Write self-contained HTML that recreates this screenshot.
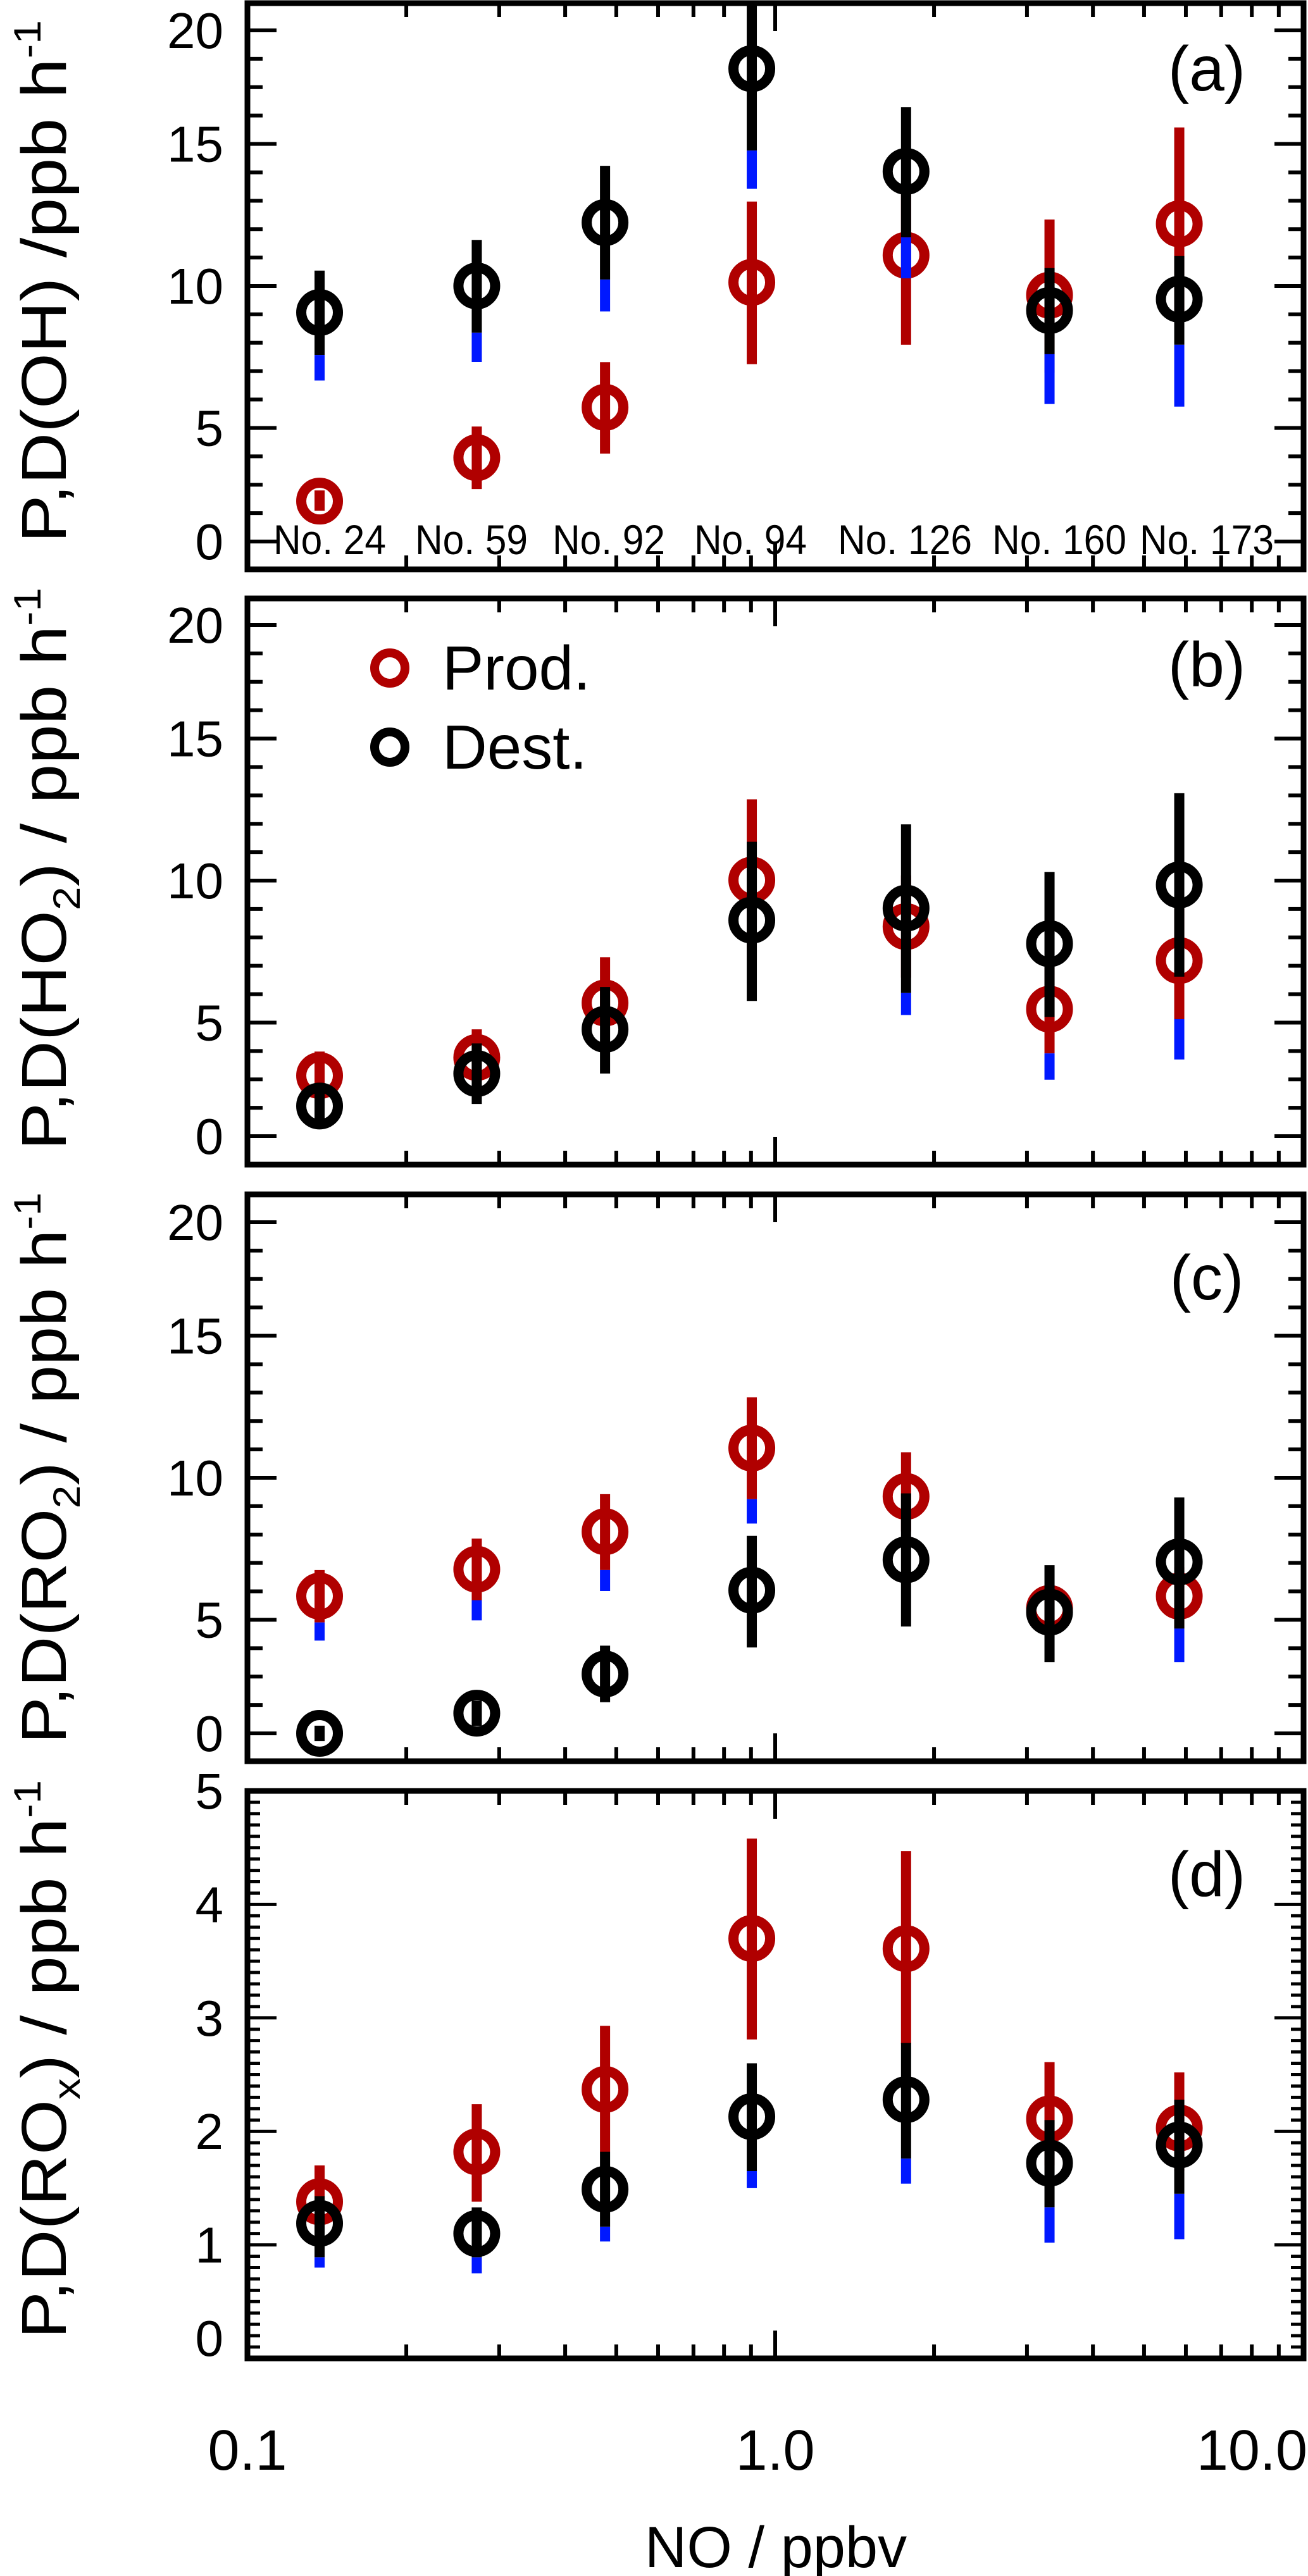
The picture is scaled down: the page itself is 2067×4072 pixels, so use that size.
<!DOCTYPE html>
<html><head><meta charset="utf-8"><style>
html,body{margin:0;padding:0;background:#fff}
svg{display:block}
text{font-family:"Liberation Sans",sans-serif;fill:#000}
</style></head><body>
<svg id="chart" width="2067" height="4072" viewBox="0 0 2067 4072" xmlns="http://www.w3.org/2000/svg"></svg>
<script>
// ---- data ----
const noValues = [0.137, 0.272, 0.476, 0.903, 1.77, 3.31, 5.83];
const siteLabels = ["No. 24","No. 59","No. 92","No. 94","No. 126","No. 160","No. 173"];
const xTickLabels = ["0.1","1.0","10.0"];
// panel a: OH
const ohProd = [1.58, 3.28, 5.25, 10.14, 11.2, 9.64, 12.43];
const ohProdHi = [2.0, 4.50, 7.02, 13.3, 14.0, 12.6, 16.2];
const ohProdLo = [1.2, 2.05, 3.44, 6.94, 7.7, 6.6, 8.7];
const ohProdBlue = [1.2, 2.05, 3.44, 6.94, 7.7, 6.6, 8.7];
const ohDest = [8.96, 10.0, 12.48, 18.5, 14.48, 9.04, 9.48];
const ohDestHi = [10.6, 11.8, 14.7, 22, 17.0, 10.7, 11.17];
const ohDestLo = [7.3, 8.17, 10.25, 15.3, 11.9, 7.33, 7.7];
const ohDestBlue = [6.3, 7.03, 9.0, 13.8, 10.3, 5.38, 5.28];
// panel b: HO2
const ho2Prod = [2.37, 3.08, 5.21, 10.02, 8.2, 4.97, 6.87];
const ho2ProdHi = [3.31, 4.18, 7.0, 13.18, 10.2, 6.7, 9.0];
const ho2ProdLo = [1.66, 2.13, 4.34, 6.9, 6.2, 3.24, 4.58];
const ho2ProdBlue = [1.66, 2.13, 4.34, 6.9, 6.2, 2.21, 3.0];
const ho2Dest = [1.18, 2.45, 4.18, 8.45, 8.92, 7.53, 9.83];
const ho2DestHi = [1.98, 3.63, 5.84, 11.52, 12.2, 10.34, 13.42];
const ho2DestLo = [0.4, 1.26, 2.45, 5.29, 5.6, 4.66, 6.24];
const ho2DestBlue = [0.4, 1.26, 2.45, 5.29, 4.74, 4.66, 6.24];
// panel c: RO2
const ro2Prod = [5.37, 6.42, 7.89, 11.16, 9.27, 4.89, 5.37];
const ro2ProdHi = [6.39, 7.62, 9.36, 13.15, 11.0, 5.7, 6.5];
const ro2ProdLo = [4.34, 5.21, 6.39, 9.16, 7.9, 4.1, 4.1];
const ro2ProdBlue = [3.63, 4.42, 5.57, 8.21, 7.9, 4.1, 4.1];
const ro2Dest = [0.0, 0.79, 2.32, 5.6, 6.79, 4.74, 6.71];
const ro2DestHi = [0.3, 1.29, 3.43, 7.73, 9.39, 6.58, 9.23];
const ro2DestLo = [-0.3, 0.29, 1.22, 3.36, 4.18, 2.79, 4.1];
const ro2DestBlue = [-0.3, 0.29, 1.22, 3.36, 4.18, 2.79, 2.79];
// panel d: ROx
const roxProd = [1.38, 1.82, 2.37, 3.70, 3.61, 2.11, 2.03];
const roxProdHi = [1.70, 2.24, 2.93, 4.58, 4.47, 2.61, 2.52];
const roxProdLo = [1.1, 1.38, 1.82, 2.81, 2.77, 1.7, 1.65];
const roxProdBlue = [1.1, 1.38, 1.82, 2.81, 2.77, 1.7, 1.65];
const roxDest = [1.19, 1.10, 1.49, 2.13, 2.28, 1.72, 1.88];
const roxDestHi = [1.43, 1.33, 1.82, 2.60, 2.78, 2.10, 2.28];
const roxDestLo = [0.89, 0.89, 1.16, 1.65, 1.76, 1.33, 1.45];
const roxDestBlue = [0.80, 0.75, 1.03, 1.50, 1.54, 1.02, 1.05];

const NS = "http://www.w3.org/2000/svg";
const svg = document.getElementById('chart');
const X0 = 391, X1 = 2060, DEC = 834;
function xPos(v){ return X0 + (Math.log10(v) + 1) * DEC; }
function mk(tag, attrs, parent){
  const e = document.createElementNS(NS, tag);
  for (const k in attrs) e.setAttribute(k, attrs[k]);
  (parent || svg).appendChild(e);
  return e;
}
const RED = "#b00000", BLUE = "#0018ff";

const panels = [
  {key:"a", top:5, bot:900, zero:856, per:40.4, label:"(a)", ly:108,
   prod:[ohProd,ohProdHi,ohProdLo,ohProdBlue], dest:[ohDest,ohDestHi,ohDestLo,ohDestBlue],
   title:["P,D(OH) /ppb h","-1",""], ty0:32, ty1:858},
  {key:"b", top:946, bot:1841, zero:1796, per:40.4, label:"(b)", ly:1050,
   prod:[ho2Prod,ho2ProdHi,ho2ProdLo,ho2ProdBlue], dest:[ho2Dest,ho2DestHi,ho2DestLo,ho2DestBlue],
   title:["P,D(HO","2",") / ppb h"], ty0:929, ty1:1818},
  {key:"c", top:1888, bot:2784, zero:2740, per:40.4, label:"(c)", ly:2019,
   prod:[ro2Prod,ro2ProdHi,ro2ProdLo,ro2ProdBlue], dest:[ro2Dest,ro2DestHi,ro2DestLo,ro2DestBlue],
   title:["P,D(RO","2",") / ppb h"], ty0:1885, ty1:2756},
  {key:"d", top:2831, bot:3728, zero:3728, per:179.4, label:"(d)", ly:2962,
   prod:[roxProd,roxProdHi,roxProdLo,roxProdBlue], dest:[roxDest,roxDestHi,roxDestLo,roxDestBlue],
   title:["P,D(RO","x",") / ppb h"], ty0:2814, ty1:3697}
];

panels.forEach(p => {
  const g = mk('g', {});
  
  
  const y = v => p.zero - v * p.per;
  const cid = 'clip-' + p.key;
  const cp = mk('clipPath', {id: cid}, g);
  mk('rect', {x: X0, y: p.top, width: X1 - X0, height: p.bot - p.top}, cp);

  if (p.key !== 'd') {
    const step = 20 * p.per / 18;
    const majors = {0:"0",4:"5",9:"10",14:"15",18:"20"};
    for (let i = 0; i <= 18; i++) {
      const ty = p.zero - i * step;
      const L = majors[i] !== undefined ? 46 : 24;
      const t1 = mk('line', {x1:X0, x2:X0+L, y1:ty, y2:ty, stroke:'#000','stroke-width':6}, g);
       
      mk('line', {x1:X1, x2:X1-L, y1:ty, y2:ty, stroke:'#000','stroke-width':6}, g);
      if (majors[i] !== undefined) {
        const tl = mk('text', {x:353, y:ty+28, 'font-size':80, 'text-anchor':'end'}, g);
        tl.textContent = majors[i];
         
      }
    }
  } else {
    for (let i = 0; i <= 50; i++) {
      const ty = p.zero - i * 0.1 * p.per;
      const maj = i % 10 === 0;
      const L = maj ? 46 : 20;
      const t1 = mk('line', {x1:X0, x2:X0+L, y1:ty, y2:ty, stroke:'#000','stroke-width':5}, g);
       
      mk('line', {x1:X1, x2:X1-L, y1:ty, y2:ty, stroke:'#000','stroke-width':5}, g);
      if (maj) {
        const tl = mk('text', {x:353, y:Math.min(ty+28, 3724), 'font-size':80, 'text-anchor':'end'}, g);
        tl.textContent = String(i / 10);
         
      }
    }
  }
  for (let d = -1; d <= 0; d++) {
    for (let m = 1; m <= 9; m++) {
      const v = m * Math.pow(10, d);
      const tx = xPos(v);
      if (tx < X0 + 2 || tx > X1 - 2) continue;
      const L = m === 1 ? 44 : 22;
      const t1 = mk('line', {x1:tx, x2:tx, y1:p.bot, y2:p.bot-L, stroke:'#000','stroke-width':6}, g);
       
      mk('line', {x1:tx, x2:tx, y1:p.top, y2:p.top+L, stroke:'#000','stroke-width':6}, g);
    }
  }
  const fr = mk('rect', {x:X0, y:p.top, width:X1-X0, height:p.bot-p.top, fill:'none', stroke:'#000', 'stroke-width':9}, g);
   

  const dg = mk('g', {'clip-path': 'url(#' + cid + ')'}, g);
  function series(arr, color, name){
    const [c, hi, lo, bl] = arr;
    noValues.forEach((nv, i) => {
      const px = xPos(nv);
      const b1 = mk('line', {x1:px, x2:px, y1:y(hi[i]), y2:y(lo[i]), stroke:color, 'stroke-width':16}, dg);
       
      if (bl[i] < lo[i]) {
        const b2 = mk('line', {x1:px, x2:px, y1:y(lo[i]), y2:y(bl[i]), stroke:BLUE, 'stroke-width':16}, dg);
         
      }
      const ci = mk('ellipse', {cx:px, cy:y(c[i]), rx:29, ry:29, fill:'none', stroke:color, 'stroke-width':16}, dg);
       
    });
  }
  series(p.prod, RED, 'prod');
  series(p.dest, '#000', 'dest');

  const pl = mk('text', {x:1907, y:p.ly+35, 'font-size':100, 'text-anchor':'middle'}, g);
  pl.textContent = p.label;
   

  const cy = (p.ty0 + p.ty1) / 2, len = p.ty1 - p.ty0;
  const tt = mk('text', {x:0, y:0, 'font-size':100, 'text-anchor':'middle', transform:'translate(104,' + cy + ') rotate(-90)', textLength:len, lengthAdjust:'spacingAndGlyphs'}, g);
   
  if (p.key === 'a') {
    const s1 = mk('tspan', {}, tt); s1.textContent = "P,D(OH) /ppb h";
    const s2 = mk('tspan', {'font-size':60, dy:-40}, tt); s2.textContent = "-1";
  } else {
    const s1 = mk('tspan', {}, tt); s1.textContent = p.title[0];
    const s2 = mk('tspan', {'font-size':60, dy:22}, tt); s2.textContent = p.title[1];
    const s3 = mk('tspan', {dy:-22}, tt); s3.textContent = p.title[2];
    const s4 = mk('tspan', {'font-size':60, dy:-40}, tt); s4.textContent = "-1";
  }
});

// site label layout centers (pixels, layout only)
const siteLabelX = [521, 745, 962, 1186, 1430, 1674, 1907];
siteLabels.forEach((s, i) => {
  const t = mk('text', {x:siteLabelX[i], y:876, 'font-size':66, 'text-anchor':'middle', textLength: s.length > 6 ? 212 : 178, lengthAdjust:'spacingAndGlyphs'});
  t.textContent = s;
   
});

const lg = mk('g', {});
 
const l1 = mk('ellipse', {cx:616, cy:1056, rx:24, ry:24, fill:'none', stroke:RED, 'stroke-width':14}, lg);
 
const lt1 = mk('text', {x:699, y:1090, 'font-size':98}, lg); lt1.textContent = "Prod.";
 
const l2 = mk('ellipse', {cx:616, cy:1181, rx:24, ry:24, fill:'none', stroke:'#000', 'stroke-width':14}, lg);
 
const lt2 = mk('text', {x:699, y:1215, 'font-size':98}, lg); lt2.textContent = "Dest.";
 

[[0.1, 'middle'], [1, 'middle'], [10, 'end']].forEach((a, i) => {
  const t = mk('text', {x: a[1] === 'end' ? 2066 : xPos(a[0]), y:3904, 'font-size':90, 'text-anchor':a[1]});
  t.textContent = xTickLabels[i];
   
});
const xt = mk('text', {x:1226, y:4058, 'font-size':92, 'text-anchor':'middle'});
xt.textContent = "NO / ppbv";
 
</script>
</body></html>
